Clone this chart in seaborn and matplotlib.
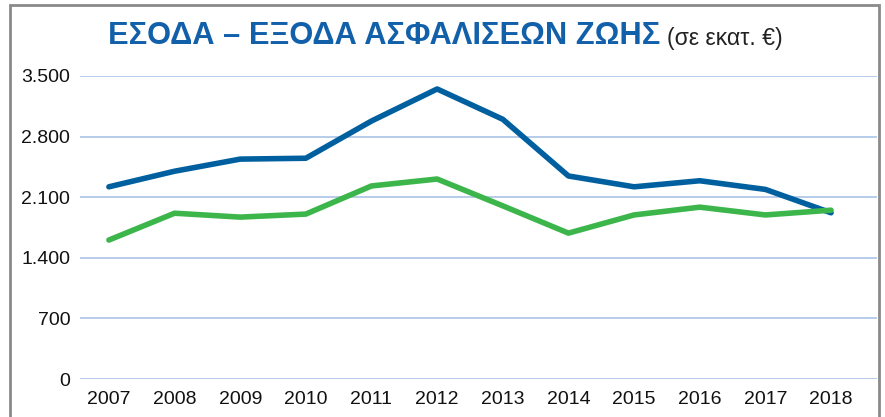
import matplotlib
matplotlib.use("Agg")
import matplotlib.pyplot as plt
from matplotlib.patches import Rectangle
import seaborn as sns
import pandas as pd

years = [2007, 2008, 2009, 2010, 2011, 2012, 2013, 2014, 2015, 2016, 2017, 2018]
blue_values = [2220, 2400, 2540, 2550, 2980, 3350, 3000, 2345, 2220, 2290, 2190, 1920]
green_values = [1605, 1915, 1870, 1905, 2230, 2310, 2000, 1685, 1895, 1985, 1895, 1950]
y_ticks = [0, 700, 1400, 2100, 2800, 3500]
y_tick_labels = ["0", "700", "1.400", "2.100", "2.800", "3.500"]
title_main = "ΕΣΟΔΑ – ΕΞΟΔΑ ΑΣΦΑΛΙΣΕΩΝ ΖΩΗΣ"
title_unit = "(σε εκατ. €)"

sns.set_theme(style="white")
plt.rcParams["font.family"] = ["Liberation Sans", "DejaVu Sans"]

df = pd.DataFrame({
    "year": years * 2,
    "value": blue_values + green_values,
    "series": ["Α"] * len(years) + ["Β"] * len(years),
})

fig = plt.figure(figsize=(8.85, 4.17), dpi=100)
ax = fig.add_axes([80 / 885, 38 / 417, 797 / 885, 303 / 417])

sns.lineplot(data=df, x="year", y="value", hue="series",
             palette={"Α": "#00609F", "Β": "#3CB64B"}, linewidth=4,
             legend=False, ax=ax)

ax.set_xlim(2006.56, 2018.70)
ax.set_ylim(0, 3500)
ax.set_yticks(y_ticks)
ax.set_yticklabels(y_tick_labels)
ax.set_xticks(years)
ax.set_xticklabels([str(y) for y in years])
ax.grid(axis="y", color="#A9C3E6", linewidth=1.2)
ax.set_axisbelow(True)
for s in ax.spines.values():
    s.set_visible(False)
ax.tick_params(axis="both", length=0, labelsize=14, colors="#111111")
ax.tick_params(axis="y", pad=7)
ax.tick_params(axis="x", pad=9)
ax.set_xlabel("")
ax.set_ylabel("")

# border frame
fig.patches.append(Rectangle((10 / 885, -0.05), 869 / 885, (417 - 5) / 417 + 0.05,
                             transform=fig.transFigure, fill=False,
                             edgecolor="#8a8a8a", linewidth=2))


def fitted_text(x_px, y_px, s, width_px, size, **kw):
    t = fig.text(x_px / 885, 1 - y_px / 417, s, fontsize=size, va="center", ha="left", **kw)
    fig.canvas.draw()
    w = t.get_window_extent().width
    t.set_fontsize(size * width_px / w)
    fig.canvas.draw()
    return t


t = fitted_text(108, 36, title_main, 552, 27, fontweight="bold", color="#1360AA")
bb = t.get_window_extent()
fitted_text(bb.x1 + 7, 38, title_unit, 115, 16, color="#222222")

fig.savefig("out.png", dpi=100)
